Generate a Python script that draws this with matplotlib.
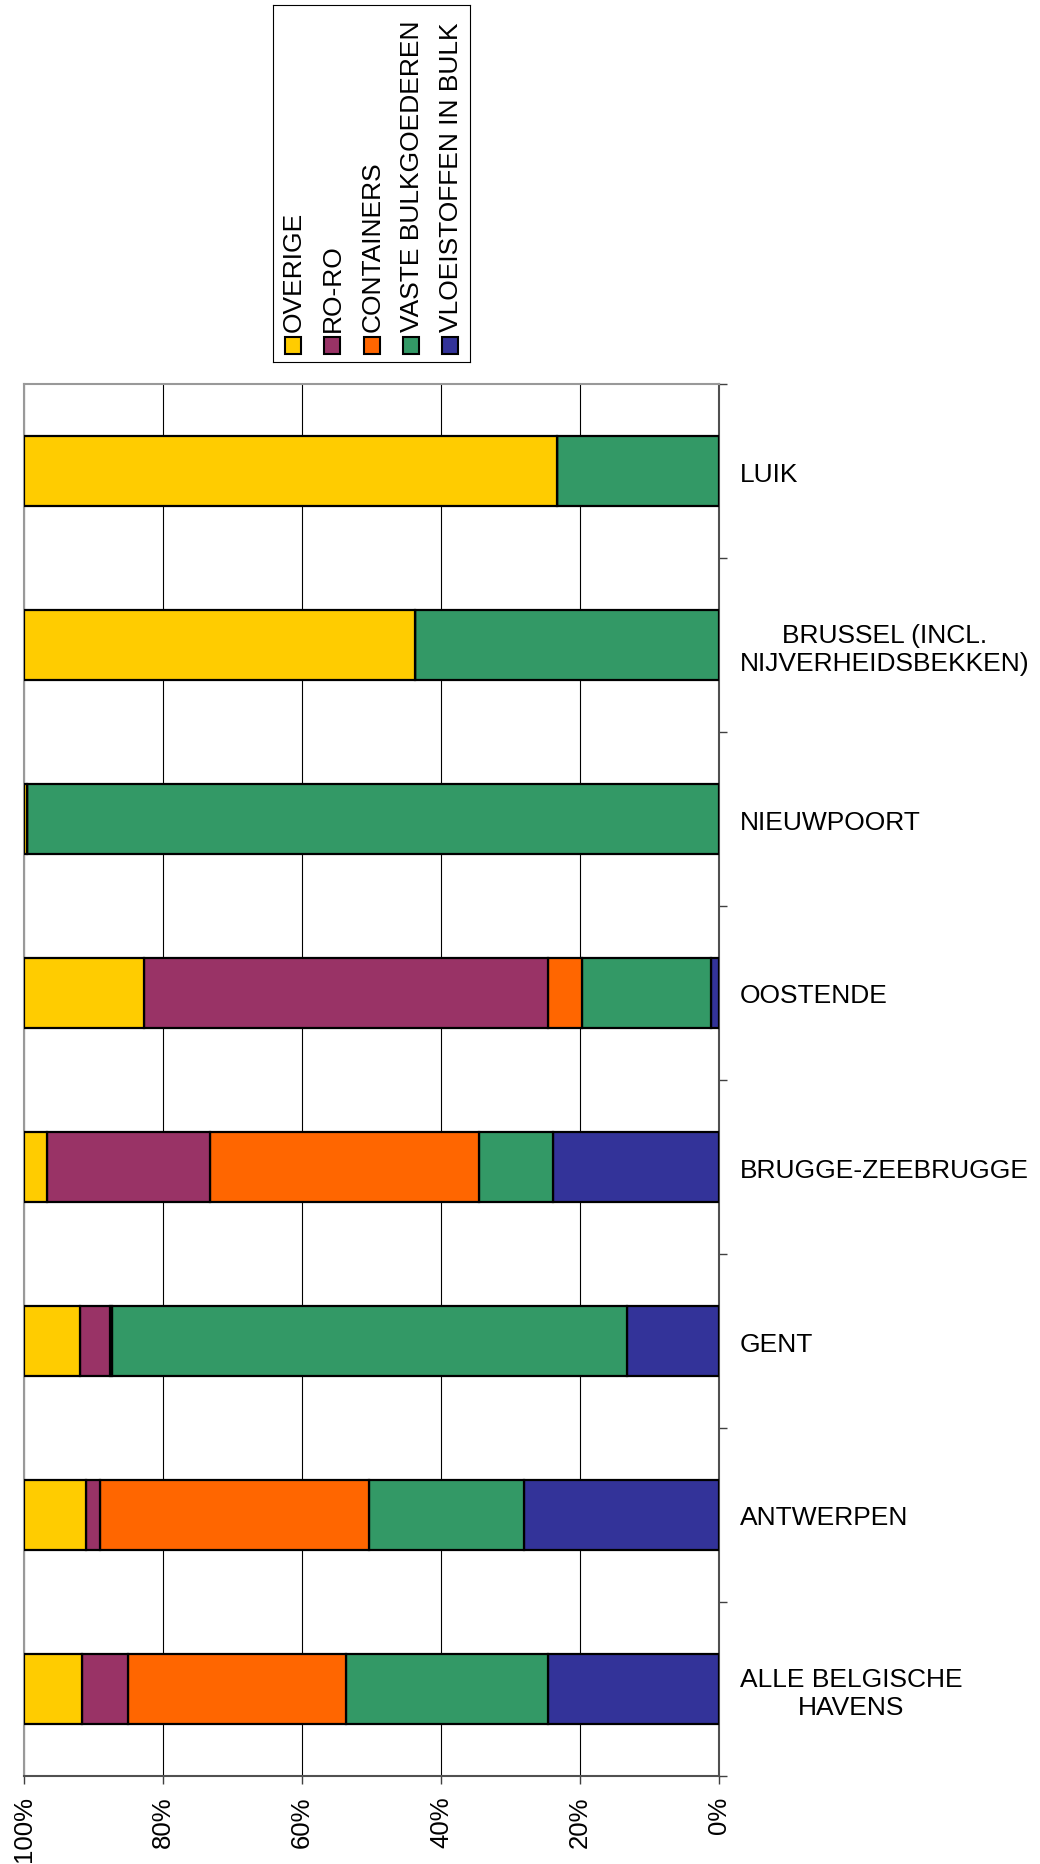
import numpy as np
import matplotlib
matplotlib.use('Agg')
import matplotlib.pyplot as plt
from matplotlib.patches import Rectangle

plt.rcParams['font.family'] = ['Liberation Sans', 'DejaVu Sans']

# =============================================
# Data (share of tonnage per port, %)
# =============================================
havens = ['LUIK', 'BRUSSEL (INCL.\nNIJVERHEIDSBEKKEN)', 'NIEUWPOORT', 'OOSTENDE',
          'BRUGGE-ZEEBRUGGE', 'GENT', 'ANTWERPEN', 'ALLE BELGISCHE\nHAVENS']

vloeistoffen = [0.0, 0.0, 0.0, 1.1, 23.9, 13.3, 28.1, 24.6]
vaste_bulk = [23.3, 43.8, 99.6, 18.6, 10.7, 74.0, 22.3, 29.1]
containers = [0.0, 0.0, 0.0, 4.9, 38.7, 0.3, 38.6, 31.3]
roro = [0.0, 0.0, 0.0, 58.1, 23.4, 4.4, 2.1, 6.7]
overige = [76.7, 56.2, 0.4, 17.3, 3.3, 8.0, 8.9, 8.3]

# stacking order (from 0% outwards)
reeksen = ['VLOEISTOFFEN IN BULK', 'VASTE BULKGOEDEREN', 'CONTAINERS', 'RO-RO', 'OVERIGE']
waarden = [vloeistoffen, vaste_bulk, containers, roro, overige]
kleuren = ['#333399', '#339966', '#FF6600', '#993366', '#FFCC00']

x_ticks = [100, 80, 60, 40, 20, 0]
x_labels = ['100%', '80%', '60%', '40%', '20%', '0%']

# =============================================
# Figure
# =============================================
W, H = 1040, 1865
fig = plt.figure(figsize=(W / 100, H / 100), dpi=100)
fig.patch.set_facecolor('white')

ax = fig.add_axes([24 / W, 1 - 1777 / H, (719 - 24) / W, (1777 - 385) / H])

y = np.arange(len(havens))
links = np.zeros(len(havens))
for naam, vals, kleur in zip(reeksen, waarden, kleuren):
    ax.barh(y, vals, left=links, height=0.4, color=kleur, edgecolor='black',
            linewidth=1.6, label=naam, zorder=3)
    links += np.array(vals)

ax.set_xlim(100, 0)
ax.set_ylim(len(havens) - 0.5, -0.5)

# gridlines
ax.set_axisbelow(True)
ax.xaxis.grid(True, color='black', linewidth=0.8)
ax.yaxis.grid(False)

# x axis
ax.set_xticks(x_ticks)
ax.set_xticklabels(x_labels, rotation=90, fontsize=18.5)
ax.tick_params(axis='x', length=6, width=1, color='#404040', pad=8)

# y axis on the right: ticks between categories, labels at centres
ax.yaxis.tick_right()
ax.set_yticks(np.arange(-0.5, len(havens), 1))
ax.set_yticklabels([])
ax.set_yticks(y, minor=True)
ax.set_yticklabels(havens, minor=True, fontsize=19)
ax.tick_params(axis='y', which='major', length=6, width=1, color='#404040')
ax.tick_params(axis='y', which='minor', length=0, pad=15)
for lbl in ax.get_yticklabels(minor=True):
    lbl.set_multialignment('center')

for kant in ['top', 'left']:
    ax.spines[kant].set_color('#999999')
    ax.spines[kant].set_linewidth(1.5)
for kant in ['bottom', 'right']:
    ax.spines[kant].set_color('#505050')
    ax.spines[kant].set_linewidth(1.5)

# =============================================
# Legend (vertical text, as in the original)
# =============================================
lx0, ly0, lx1, ly1 = 273, 6, 470, 363
lax = fig.add_axes([lx0 / W, 1 - ly1 / H, (lx1 - lx0) / W, (ly1 - ly0) / H])
lax.set_xlim(0, lx1 - lx0)
lax.set_ylim(ly1 - ly0, 0)
lax.set_xticks([])
lax.set_yticks([])
for sp in lax.spines.values():
    sp.set_color('black')
    sp.set_linewidth(0.8)

legend_volgorde = list(range(len(reeksen)))[::-1]
for i, idx in enumerate(legend_volgorde):
    cx = 20 + i * 39.3
    lax.add_patch(Rectangle((cx - 8, 332), 16, 17, facecolor=kleuren[idx],
                            edgecolor='black', linewidth=1.5))
    lax.text(cx + 1, 326, reeksen[idx], rotation=90, ha='center', va='bottom',
             fontsize=19)

fig.savefig('out.png', dpi=100)
